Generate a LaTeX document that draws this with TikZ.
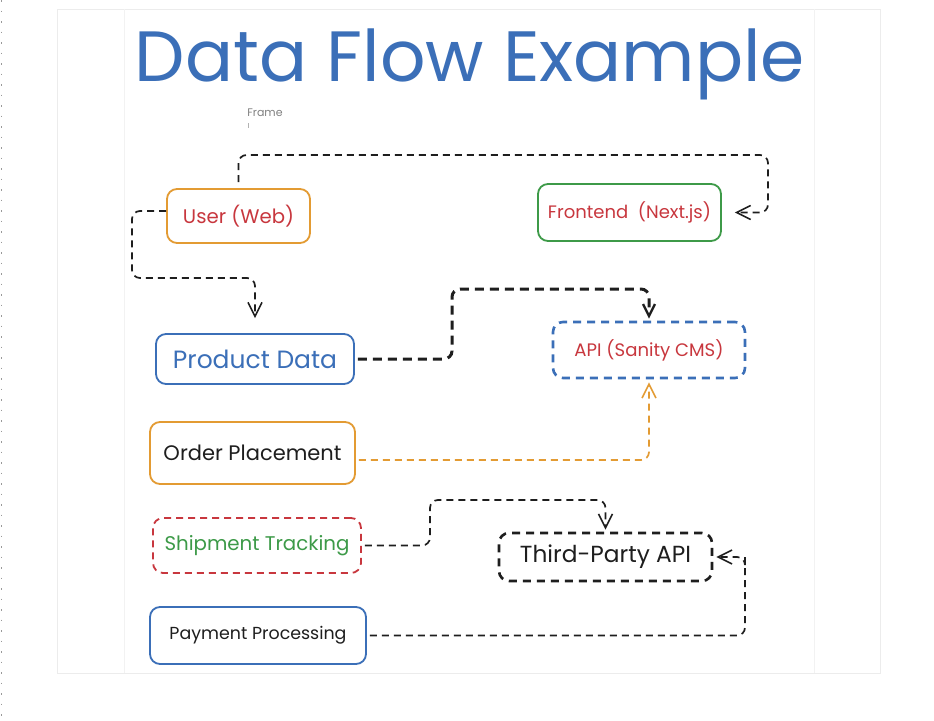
\documentclass[tikz,border=0pt]{standalone}
\usepackage{fontspec}
\setmainfont{Poppins}
\usepackage{graphicx}
\usetikzlibrary{arrows.meta,calc}
\definecolor{bluec}{HTML}{3B6FB8}
\definecolor{orangec}{HTML}{E39B33}
\definecolor{greenc}{HTML}{3D9A48}
\definecolor{redc}{HTML}{C8373E}
\definecolor{blackc}{HTML}{1E1E1E}
\definecolor{framec}{HTML}{ECECEC}
\newcommand{\fitw}[2]{\resizebox{#1}{!}{#2}}
\tikzset{
  box/.style={draw, rounded corners=10pt, line width=1.8pt, inner sep=0pt, align=center},
  dbox/.style={box, dashed, dash pattern=on 8pt off 6pt, line width=2.6pt},
  conn/.style={draw=blackc, line width=1.7pt, dash pattern=on 7pt off 5pt, rounded corners=8pt, -{Straight Barb[length=14pt,width=14pt,line width=1.6pt]}},
  thickconn/.style={conn, line width=3pt, dash pattern=on 9pt off 6pt, -{Straight Barb[length=12pt,width=12pt,line width=2.4pt]}},
}
\begin{document}
\begin{tikzpicture}[x=1pt,y=-1pt]
\useasboundingbox (0,0) rectangle (934,720);
\fill[white] (0,0) rectangle (934,720);
% left dotted edge
\draw[gray!80, line width=1.5pt, dash pattern=on 1.5pt off 9pt] (1.5,0) -- (1.5,720);
% frame
\draw[framec, line width=1pt] (57,9) rectangle (880,673);
\draw[framec!70, line width=1pt] (124,9) -- (124,673);
\draw[framec!70, line width=1pt] (814,9) -- (814,673);
% title
\node[text=bluec, inner sep=0pt] (title) at (470,64) {\fitw{670pt}{Data Flow Example}};
\node[text=gray, font=\fontsize{11}{12}\selectfont, inner sep=0pt] (framelbl) at (265,113) {Frame};
\draw[gray!60, line width=0.8pt] (248,123) -- (248,128);
% nodes
\node[box, draw=orangec, text=redc, minimum width=143pt, minimum height=54pt] (user) at (238.5,216) {\fitw{111pt}{User (Web)}};
\node[box, draw=greenc, text=redc, minimum width=183pt, minimum height=57pt] (front) at (629.5,212.5) {\fitw{163pt}{Frontend\ \ (Next.js)}};
\node[box, draw=bluec, text=bluec, minimum width=198pt, minimum height=50pt] (prod) at (255,359) {\fitw{164pt}{Product Data}};
\node[dbox, draw=bluec, text=redc, minimum width=192pt, minimum height=56pt] (api) at (649,350) {\fitw{149pt}{API (Sanity CMS)}};
\node[box, draw=orangec, text=blackc, minimum width=205pt, minimum height=62pt] (order) at (252.5,453) {\fitw{178pt}{Order Placement}};
\node[box, draw=redc, dashed, dash pattern=on 7pt off 5pt, text=greenc, minimum width=208pt, minimum height=55pt] (ship) at (257,545.5) {\fitw{185pt}{Shipment Tracking}};
\node[dbox, draw=blackc, text=blackc, minimum width=213pt, minimum height=48pt] (tp) at (605.5,557) {\fitw{171pt}{Third-Party API}};
\node[box, draw=bluec, text=blackc, minimum width=216pt, minimum height=57pt] (pay) at (258,635.5) {\fitw{177pt}{Payment Processing}};
% connectors
\draw[conn, shorten <=6pt, shorten >=13pt] (user.north) |- (768,155) |- (front.east);
\draw[conn, shorten >=15pt] ([yshift=5pt]user.west) -| (132,278) -| (prod.north);
\draw[thickconn, shorten <=3pt, shorten >=2pt] (prod.east) -| (452,289) -| (api.north);
\draw[conn, draw=orangec, shorten <=3pt, shorten >=3pt] ([yshift=-7pt]order.east) -| (api.south);
\draw[conn, shorten <=3pt, shorten >=2pt] (ship.east) -| (430,500) -| (tp.north);
\draw[conn, shorten <=3pt, shorten >=3pt] (pay.east) -| (745,565) |- (tp.east);
\end{tikzpicture}
\end{document}
